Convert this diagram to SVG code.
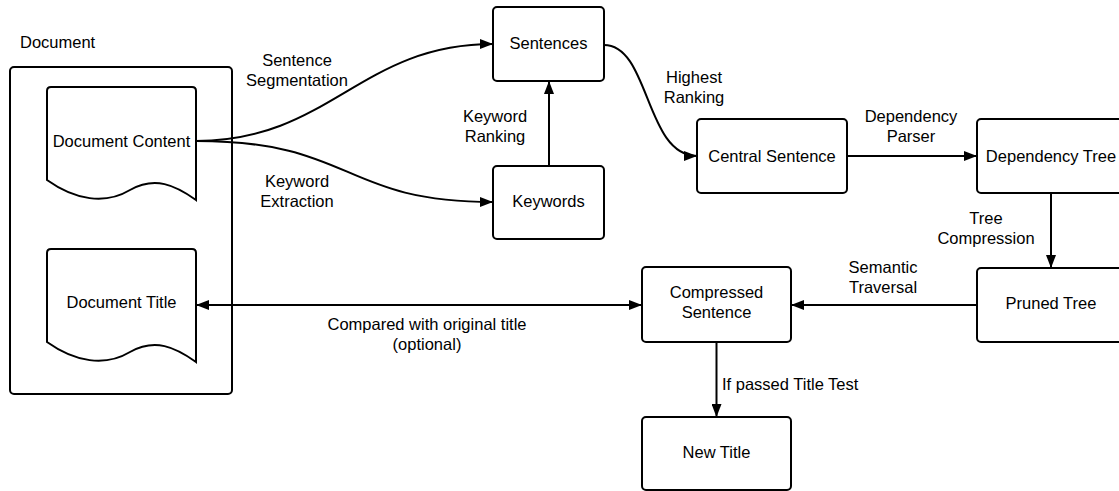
<svg xmlns="http://www.w3.org/2000/svg" width="1119" height="491" viewBox="0 0 1119 491">
<defs>
<style>
.box{fill:#fff;stroke:#000;stroke-width:2}
.ln{fill:none;stroke:#000;stroke-width:2}
.t{font-family:"Liberation Sans",Arial,sans-serif;font-size:16.5px;fill:#000;text-anchor:middle}
.ts{font-family:"Liberation Sans",Arial,sans-serif;font-size:16.5px;fill:#000}
</style>
<marker id="ah" viewBox="0 0 13 10" refX="13" refY="5" markerWidth="13" markerHeight="10" markerUnits="userSpaceOnUse" orient="auto-start-reverse">
<path d="M0,0 L13,5 L0,10 Z" fill="#000"/>
</marker>
</defs>
<rect width="1119" height="491" fill="#fff"/>

<g id="document">
<rect class="box" x="10" y="67" width="222" height="327" rx="4"/>
<text class="ts" x="20" y="48">Document</text>
</g>

<g id="document-content">
<path class="box" d="M47,180 L47,91 Q47,87 51,87 L192,87 Q196,87 196,91 L196,200 C175,185 155,176 130,190 C105,205 75,200 47,180 Z"/>
<text class="t" x="121.5" y="147">Document Content</text>
</g>

<g id="document-title">
<path class="box" d="M47,342 L47,253 Q47,249 51,249 L192,249 Q196,249 196,253 L196,362 C175,347 155,338 130,352 C105,367 75,362 47,342 Z"/>
<text class="t" x="121.5" y="308">Document Title</text>
</g>

<g id="sentences">
<rect class="box" x="493" y="7" width="111" height="74" rx="4"/>
<text class="t" x="548.5" y="49">Sentences</text>
</g>

<g id="keywords">
<rect class="box" x="493" y="166" width="111" height="73" rx="4"/>
<text class="t" x="548.5" y="207">Keywords</text>
</g>

<g id="central-sentence">
<rect class="box" x="697" y="119" width="150" height="74" rx="4"/>
<text class="t" x="772" y="162">Central Sentence</text>
</g>

<g id="dependency-tree">
<rect class="box" x="977" y="119" width="149" height="74" rx="4"/>
<text class="t" x="1051" y="162">Dependency Tree</text>
</g>

<g id="pruned-tree">
<rect class="box" x="977" y="268" width="149" height="74" rx="4"/>
<text class="t" x="1051" y="309">Pruned Tree</text>
</g>

<g id="compressed-sentence">
<rect class="box" x="642" y="267" width="149" height="75" rx="4"/>
<text class="t" x="716.5" y="298">Compressed</text>
<text class="t" x="716.5" y="318">Sentence</text>
</g>

<g id="new-title">
<rect class="box" x="642" y="417" width="149" height="73" rx="4"/>
<text class="t" x="716.5" y="458">New Title</text>
</g>

<g id="connectors">
<path class="ln" d="M196,141 C330,141 360,44 493,44" marker-end="url(#ah)"/>
<text class="t" x="297" y="66">Sentence</text>
<text class="t" x="297" y="86">Segmentation</text>

<path class="ln" d="M196,141 C355,141 340,202 493,202" marker-end="url(#ah)"/>
<text class="t" x="297" y="187">Keyword</text>
<text class="t" x="297" y="207">Extraction</text>

<path class="ln" d="M549,166 L549,81" marker-end="url(#ah)"/>
<text class="t" x="495" y="122">Keyword</text>
<text class="t" x="495" y="142">Ranking</text>

<path class="ln" d="M604,45 C650,45 645,156 697,156" marker-end="url(#ah)"/>
<text class="t" x="694" y="83">Highest</text>
<text class="t" x="694" y="103">Ranking</text>

<path class="ln" d="M847,156 L977,156" marker-end="url(#ah)"/>
<text class="t" x="911" y="122">Dependency</text>
<text class="t" x="911" y="142">Parser</text>

<path class="ln" d="M1051,193 L1051,268" marker-end="url(#ah)"/>
<text class="t" x="986" y="224">Tree</text>
<text class="t" x="986" y="244">Compression</text>

<path class="ln" d="M977,305 L791,305" marker-end="url(#ah)"/>
<text class="t" x="883" y="273">Semantic</text>
<text class="t" x="883" y="293">Traversal</text>

<path class="ln" d="M196,305 L642,305" marker-start="url(#ah)" marker-end="url(#ah)"/>
<text class="t" x="427" y="330">Compared with original title</text>
<text class="t" x="427" y="350">(optional)</text>

<path class="ln" d="M716.5,342 L716.5,417" marker-end="url(#ah)"/>
<text class="ts" x="722" y="390">If passed Title Test</text>
</g>
</svg>
